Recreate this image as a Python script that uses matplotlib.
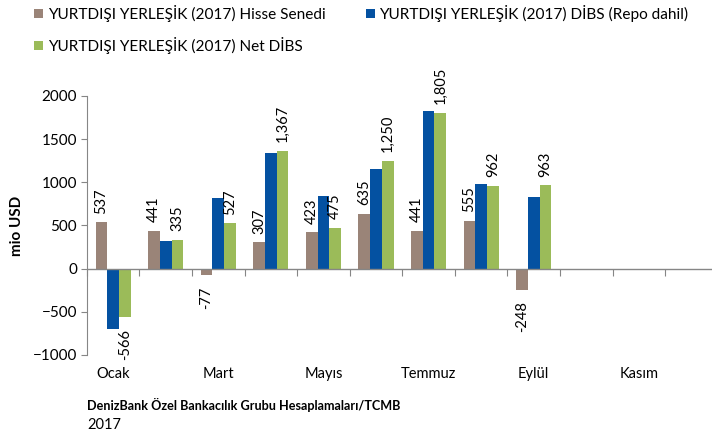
import numpy as np
import matplotlib
matplotlib.use("Agg")
from matplotlib import pyplot as plt

plt.rcParams['font.family'] = ['Lato', 'DejaVu Sans']

# data
months = ['Ocak', 'Şubat', 'Mart', 'Nisan', 'Mayıs', 'Haziran', 'Temmuz',
          'Ağustos', 'Eylül', 'Ekim', 'Kasım', 'Aralık']
hisse = [537, 441, -77, 307, 423, 635, 441, 555, -248]
dibs_repo = [-698, 318, 814, 1341, 837, 1148, 1826, 985, 829]
net_dibs = [-566, 335, 527, 1367, 475, 1250, 1805, 962, 963]
series_names = ['YURTDIŞI YERLEŞİK (2017) Hisse Senedi',
                'YURTDIŞI YERLEŞİK (2017) DİBS (Repo dahil)',
                'YURTDIŞI YERLEŞİK (2017) Net DİBS']
colors = ['#9a8478', '#0451a1', '#9bbb59']

fig = plt.figure(figsize=(7.12, 4.42), dpi=100)
ax = fig.add_axes([0.122, 0.197, 0.886, 0.586])

w = 0.222
x = np.arange(len(hisse))
b1 = ax.bar(x - w, hisse, w, color=colors[0], label=series_names[0])
b2 = ax.bar(x, dibs_repo, w, color=colors[1], label=series_names[1])
b3 = ax.bar(x + w, net_dibs, w, color=colors[2], label=series_names[2])

# rotated value labels for Hisse Senedi and Net DIBS
for bars, vals in [(b1, hisse), (b3, net_dibs)]:
    for r, v in zip(bars, vals):
        cx = r.get_x() + r.get_width() / 2
        txt = f'{v:,}'
        if v >= 0:
            ax.annotate(txt, (cx, v), xytext=(0, 6), textcoords='offset points',
                        rotation=90, ha='center', va='bottom', fontsize=10.5)
        else:
            ax.annotate(txt, (cx, v), xytext=(0, -8), textcoords='offset points',
                        rotation=90, ha='center', va='top', fontsize=10.5)

ax.set_xlim(-0.5, len(months) - 0.5)
ax.set_ylim(-1000, 2000)
ax.set_yticks(range(-1000, 2001, 500))
ax.tick_params(axis='y', labelsize=11, length=4, color='#868686', pad=3)
ax.set_xticks(range(0, 12, 2))
ax.set_xticklabels(months[::2], fontsize=10.5)
ax.tick_params(axis='x', length=0, pad=9)

for s in ['top', 'right', 'bottom']:
    ax.spines[s].set_visible(False)
ax.spines['left'].set_color('#868686')
ax.axhline(0, color='#868686', lw=1)

# small tick marks between categories on the zero line
sec = ax.secondary_xaxis(1 / 3)
sec.set_xticks(np.arange(-0.5, 12, 1))
sec.tick_params(length=5, direction='out', color='#868686', labelbottom=False)
sec.set_xticklabels([])
sec.spines['bottom'].set_visible(False)

ax.set_ylabel('mio USD', fontsize=11, fontweight='bold', labelpad=6)

fig.legend([b1, b3, b2], [series_names[0], series_names[2], series_names[1]],
           ncol=2, loc='upper left', bbox_to_anchor=(0.028, 1.02), frameon=False,
           fontsize=11.1, handlelength=0.6, handleheight=0.6, handletextpad=0.3,
           columnspacing=2.6, labelspacing=0.97)

fig.text(0.122, 0.084, 'DenizBank Özel Bankacılık Grubu Hesaplamaları/TCMB',
         fontsize=9.1, fontweight='bold', va='center')
fig.text(0.122, 0.038, '2017', fontsize=10.5, va='center')

fig.savefig('out.png', dpi=100)
